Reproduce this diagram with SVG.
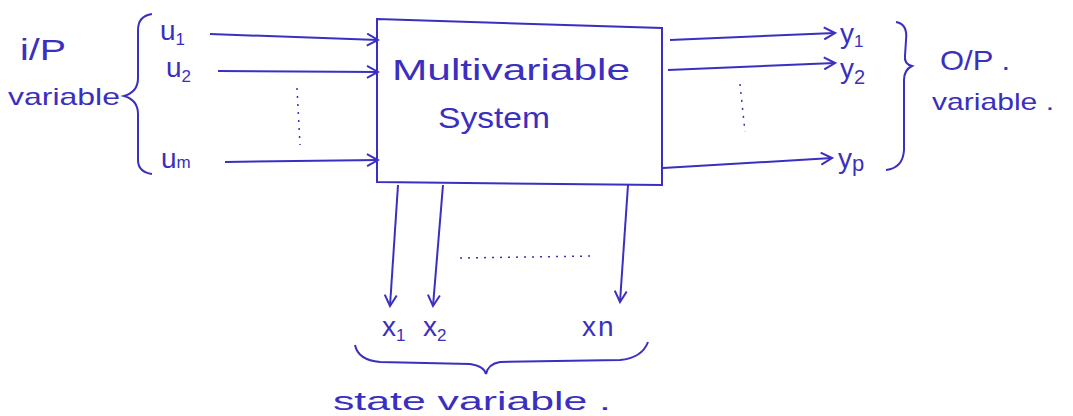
<svg xmlns="http://www.w3.org/2000/svg" width="1073" height="416" viewBox="0 0 1073 416">
<defs>
<marker id="ah" markerWidth="14" markerHeight="14" refX="12" refY="7" orient="auto" markerUnits="userSpaceOnUse">
<path d="M1,1 L12,7 L1,13" fill="none" stroke="#3a2fbf" stroke-width="2"/>
</marker>
<style>
.ln{stroke:#3a2fbf;stroke-width:2;fill:none}
.ar{stroke:#3a2fbf;stroke-width:2;fill:none;marker-end:url(#ah)}
.dt{stroke:#3a2fbf;stroke-width:1.5;fill:none;stroke-dasharray:2 6}
text{font-family:"Liberation Sans","DejaVu Sans",sans-serif;fill:#3a2fbf}
.lb{font-size:28px}
.lg{font-size:24px}
</style>
</defs>
<rect width="1073" height="416" fill="#ffffff"/>
<g id="system">
<path class="ln" d="M377,19 L662,28 L662,185 L377,182 Z"/>
<text x="392" y="80" font-size="30" textLength="238" lengthAdjust="spacingAndGlyphs">Multivariable</text>
<text x="438" y="128" font-size="30" textLength="112" lengthAdjust="spacingAndGlyphs">System</text>
</g>
<g id="inputs">
<text x="20" y="60" font-size="30" textLength="46" lengthAdjust="spacingAndGlyphs">i/P</text>
<text class="lg" x="8" y="105" textLength="112" lengthAdjust="spacingAndGlyphs">variable</text>
<path class="ln" d="M152,14 Q138,16 138,30 L138,78 Q138,92 124,96 Q138,100 138,114 L138,160 Q138,172 152,174"/>
<text class="lb" x="160" y="40">u<tspan font-size="17" dy="5">1</tspan></text>
<text class="lb" x="166" y="77">u<tspan font-size="17" dy="5">2</tspan></text>
<text class="lb" x="161" y="168">u<tspan font-size="17" dy="0">m</tspan></text>
</g>
<g id="outputs">
<text class="lb" x="840" y="43">y<tspan font-size="17" dy="4">1</tspan></text>
<text class="lb" x="840" y="78">y<tspan font-size="20" dy="6">2</tspan></text>
<text class="lb" x="838" y="168">y<tspan font-size="22" dy="3">p</tspan></text>
<path class="ln" d="M896,22 Q908,24 906,40 L905,56 Q904,64 912,66 Q904,70 904,80 L904,150 Q903,168 886,170"/>
<text x="940" y="70" font-size="28" textLength="70" lengthAdjust="spacingAndGlyphs">O/P .</text>
<text class="lg" x="932" y="110" textLength="122" lengthAdjust="spacingAndGlyphs">variable .</text>
</g>
<g id="states">
<text class="lb" x="382" y="336">x<tspan font-size="17" dy="5">1</tspan></text>
<text class="lb" x="423" y="336">x<tspan font-size="17" dy="5">2</tspan></text>
<text class="lb" x="582" y="336">x<tspan dx="2">n</tspan></text>
<path class="ln" d="M355,345 Q358,360 380,362 L470,364 Q484,366 486,374 Q488,364 500,362 L620,360 Q642,358 648,342"/>
<text x="333" y="410" font-size="26" textLength="278" lengthAdjust="spacingAndGlyphs">state variable .</text>
</g>
<g id="connectors">
<path class="ar" d="M210,34 L378,40"/>
<path class="ar" d="M218,71 L378,72"/>
<path class="ar" d="M225,162 L378,160"/>
<path class="ar" d="M670,40 L835,33"/>
<path class="ar" d="M668,70 L835,63"/>
<path class="ar" d="M663,168 L832,158"/>
<path class="ar" d="M398,185 L390,306"/>
<path class="ar" d="M443,185 L433,306"/>
<path class="ar" d="M628,185 L620,302"/>
<path class="dt" d="M297,88 L300,145"/>
<path class="dt" d="M740,84 L745,132"/>
<path class="dt" d="M460,258 L592,256"/>
</g>
</svg>
